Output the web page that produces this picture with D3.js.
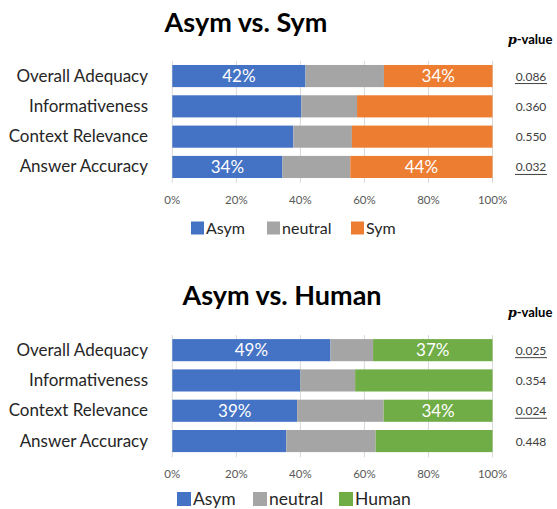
<!DOCTYPE html>
<html>
<head>
<meta charset="utf-8">
<script src="https://cdn.jsdelivr.net/npm/d3@7"></script>
<style>
  body { margin: 0; background: #fff; }
  svg text { font-family: Lato, "Open Sans", sans-serif; }
</style>
</head>
<body>
<div id="chart"></div>
<script>
/* ============================================================
   Chart: Asym vs. Sym / Asym vs. Human (100% stacked bars)
   ============================================================ */

const categories = ['Overall Adequacy', 'Informativeness', 'Context Relevance', 'Answer Accuracy'];
const ticks = [0, 0.2, 0.4, 0.6, 0.8, 1.0];

// Asym vs. Sym
const symAsym    = [41.6, 40.3, 37.8, 34.4];
const symNeutral = [24.5, 17.4, 18.3, 21.2];
const symOther   = [33.9, 42.3, 43.9, 44.4];
const symLabels  = [true, false, false, true];
const symPvalues = ['0.086', '0.360', '0.550', '0.032'];
const symSignif  = [true, false, false, true];

// Asym vs. Human
const humAsym    = [49.4, 40.0, 39.0, 35.6];
const humNeutral = [13.3, 17.1, 27.0, 27.9];
const humOther   = [37.3, 42.9, 34.0, 36.5];
const humLabels  = [true, false, true, false];
const humPvalues = ['0.025', '0.354', '0.024', '0.448'];
const humSignif  = [true, false, true, false];

const COLORS = { asym: '#4472C4', neutral: '#A5A5A5', sym: '#ED7D31', human: '#70AD47' };

const W = 557, H = 509;
const svg = d3.select('#chart').append('svg').attr('width', W).attr('height', H);

const xScale = d3.scaleLinear().domain([0, 100]).range([172.3, 492.5]);

function drawPanel(cfg) {
    const g = svg.append('g');
    const yScale = d3.scaleBand().domain(categories).range(cfg.yRange)
        .paddingInner(0.27).paddingOuter(0.135);

    // Title
    g.append('text').attr('x', cfg.titleX).attr('y', cfg.titleY).attr('text-anchor', 'middle')
        .attr('font-size', 27).attr('font-weight', 'bold').attr('fill', '#000').text(cfg.title);

    // p-value header
    const hdr = g.append('text').attr('x', 530).attr('y', cfg.titleY + 12).attr('text-anchor', 'middle')
        .attr('font-size', 13).attr('font-weight', 'bold').attr('fill', '#000');
    hdr.append('tspan').attr('font-family', '"DejaVu Serif", serif').attr('font-style', 'italic').text('p');
    hdr.append('tspan').text('-value');

    // Gridlines
    ticks.forEach(t => {
        g.append('line').attr('x1', xScale(t * 100)).attr('x2', xScale(t * 100))
            .attr('y1', cfg.yRange[0]).attr('y2', cfg.yRange[1] + 1)
            .attr('stroke', '#d9d9d9').attr('stroke-width', 1);
        g.append('text').attr('x', xScale(t * 100)).attr('y', cfg.yRange[1] + 22)
            .attr('text-anchor', 'middle').attr('font-size', 11.5).attr('fill', '#595959')
            .text(d3.format('.0%')(t));
    });

    // Stacked bars
    const rows = categories.map((c, i) => ({ cat: c, vals: [cfg.asym[i], cfg.neutral[i], cfg.other[i]], label: cfg.labels[i] }));
    const colors = [COLORS.asym, COLORS.neutral, cfg.otherColor];
    rows.forEach(r => {
        let acc = 0;
        r.vals.forEach((v, j) => {
            const x0 = xScale(acc), x1 = xScale(acc + v);
            g.append('rect').attr('x', x0).attr('y', yScale(r.cat))
                .attr('width', x1 - x0).attr('height', yScale.bandwidth())
                .attr('fill', colors[j]);
            if (r.label && j !== 1) {
                g.append('text').attr('x', (x0 + x1) / 2).attr('y', yScale(r.cat) + yScale.bandwidth() / 2 + 6)
                    .attr('text-anchor', 'middle').attr('font-size', 17).attr('fill', '#fff')
                    .text(Math.round(v) + '%');
            }
            acc += v;
        });
        // Category label
        g.append('text').attr('x', 148).attr('y', yScale(r.cat) + yScale.bandwidth() / 2 + 5.5)
            .attr('text-anchor', 'end').attr('font-size', 17).attr('fill', '#262626').text(r.cat);
    });

    // p-values
    categories.forEach((c, i) => {
        const yc = yScale(c) + yScale.bandwidth() / 2 + 4.5;
        g.append('text').attr('x', 531).attr('y', yc).attr('text-anchor', 'middle')
            .attr('font-size', 12).attr('fill', '#404040').text(cfg.pvalues[i]);
        if (cfg.signif[i]) {
            g.append('line').attr('x1', 515).attr('x2', 547).attr('y1', yc + 3).attr('y2', yc + 3)
                .attr('stroke', '#404040').attr('stroke-width', 1);
        }
    });

    // Legend
    const names = ['Asym', 'neutral', cfg.otherName];
    names.forEach((n, j) => {
        const lx = cfg.legendX[j];
        g.append('rect').attr('x', lx).attr('y', cfg.legendY - cfg.legendSq / 2)
            .attr('width', cfg.legendSq).attr('height', cfg.legendSq).attr('fill', colors[j]);
        g.append('text').attr('x', lx + cfg.legendSq + 2).attr('y', cfg.legendY + cfg.legendFont * 0.36)
            .attr('font-size', cfg.legendFont).attr('fill', '#262626').text(n);
    });
}

drawPanel({
    title: 'Asym vs. Sym', titleX: 246, titleY: 32,
    yRange: [60.9, 182.1],
    asym: symAsym, neutral: symNeutral, other: symOther, labels: symLabels,
    pvalues: symPvalues, signif: symSignif,
    otherColor: COLORS.sym, otherName: 'Sym',
    legendX: [191, 267, 351], legendY: 228, legendSq: 13, legendFont: 16
});

drawPanel({
    title: 'Asym vs. Human', titleX: 282, titleY: 305,
    yRange: [335, 456.2],
    asym: humAsym, neutral: humNeutral, other: humOther, labels: humLabels,
    pvalues: humPvalues, signif: humSignif,
    otherColor: COLORS.human, otherName: 'Human',
    legendX: [177, 253, 339], legendY: 499, legendSq: 14, legendFont: 17.5
});
</script>
</body>
</html>
